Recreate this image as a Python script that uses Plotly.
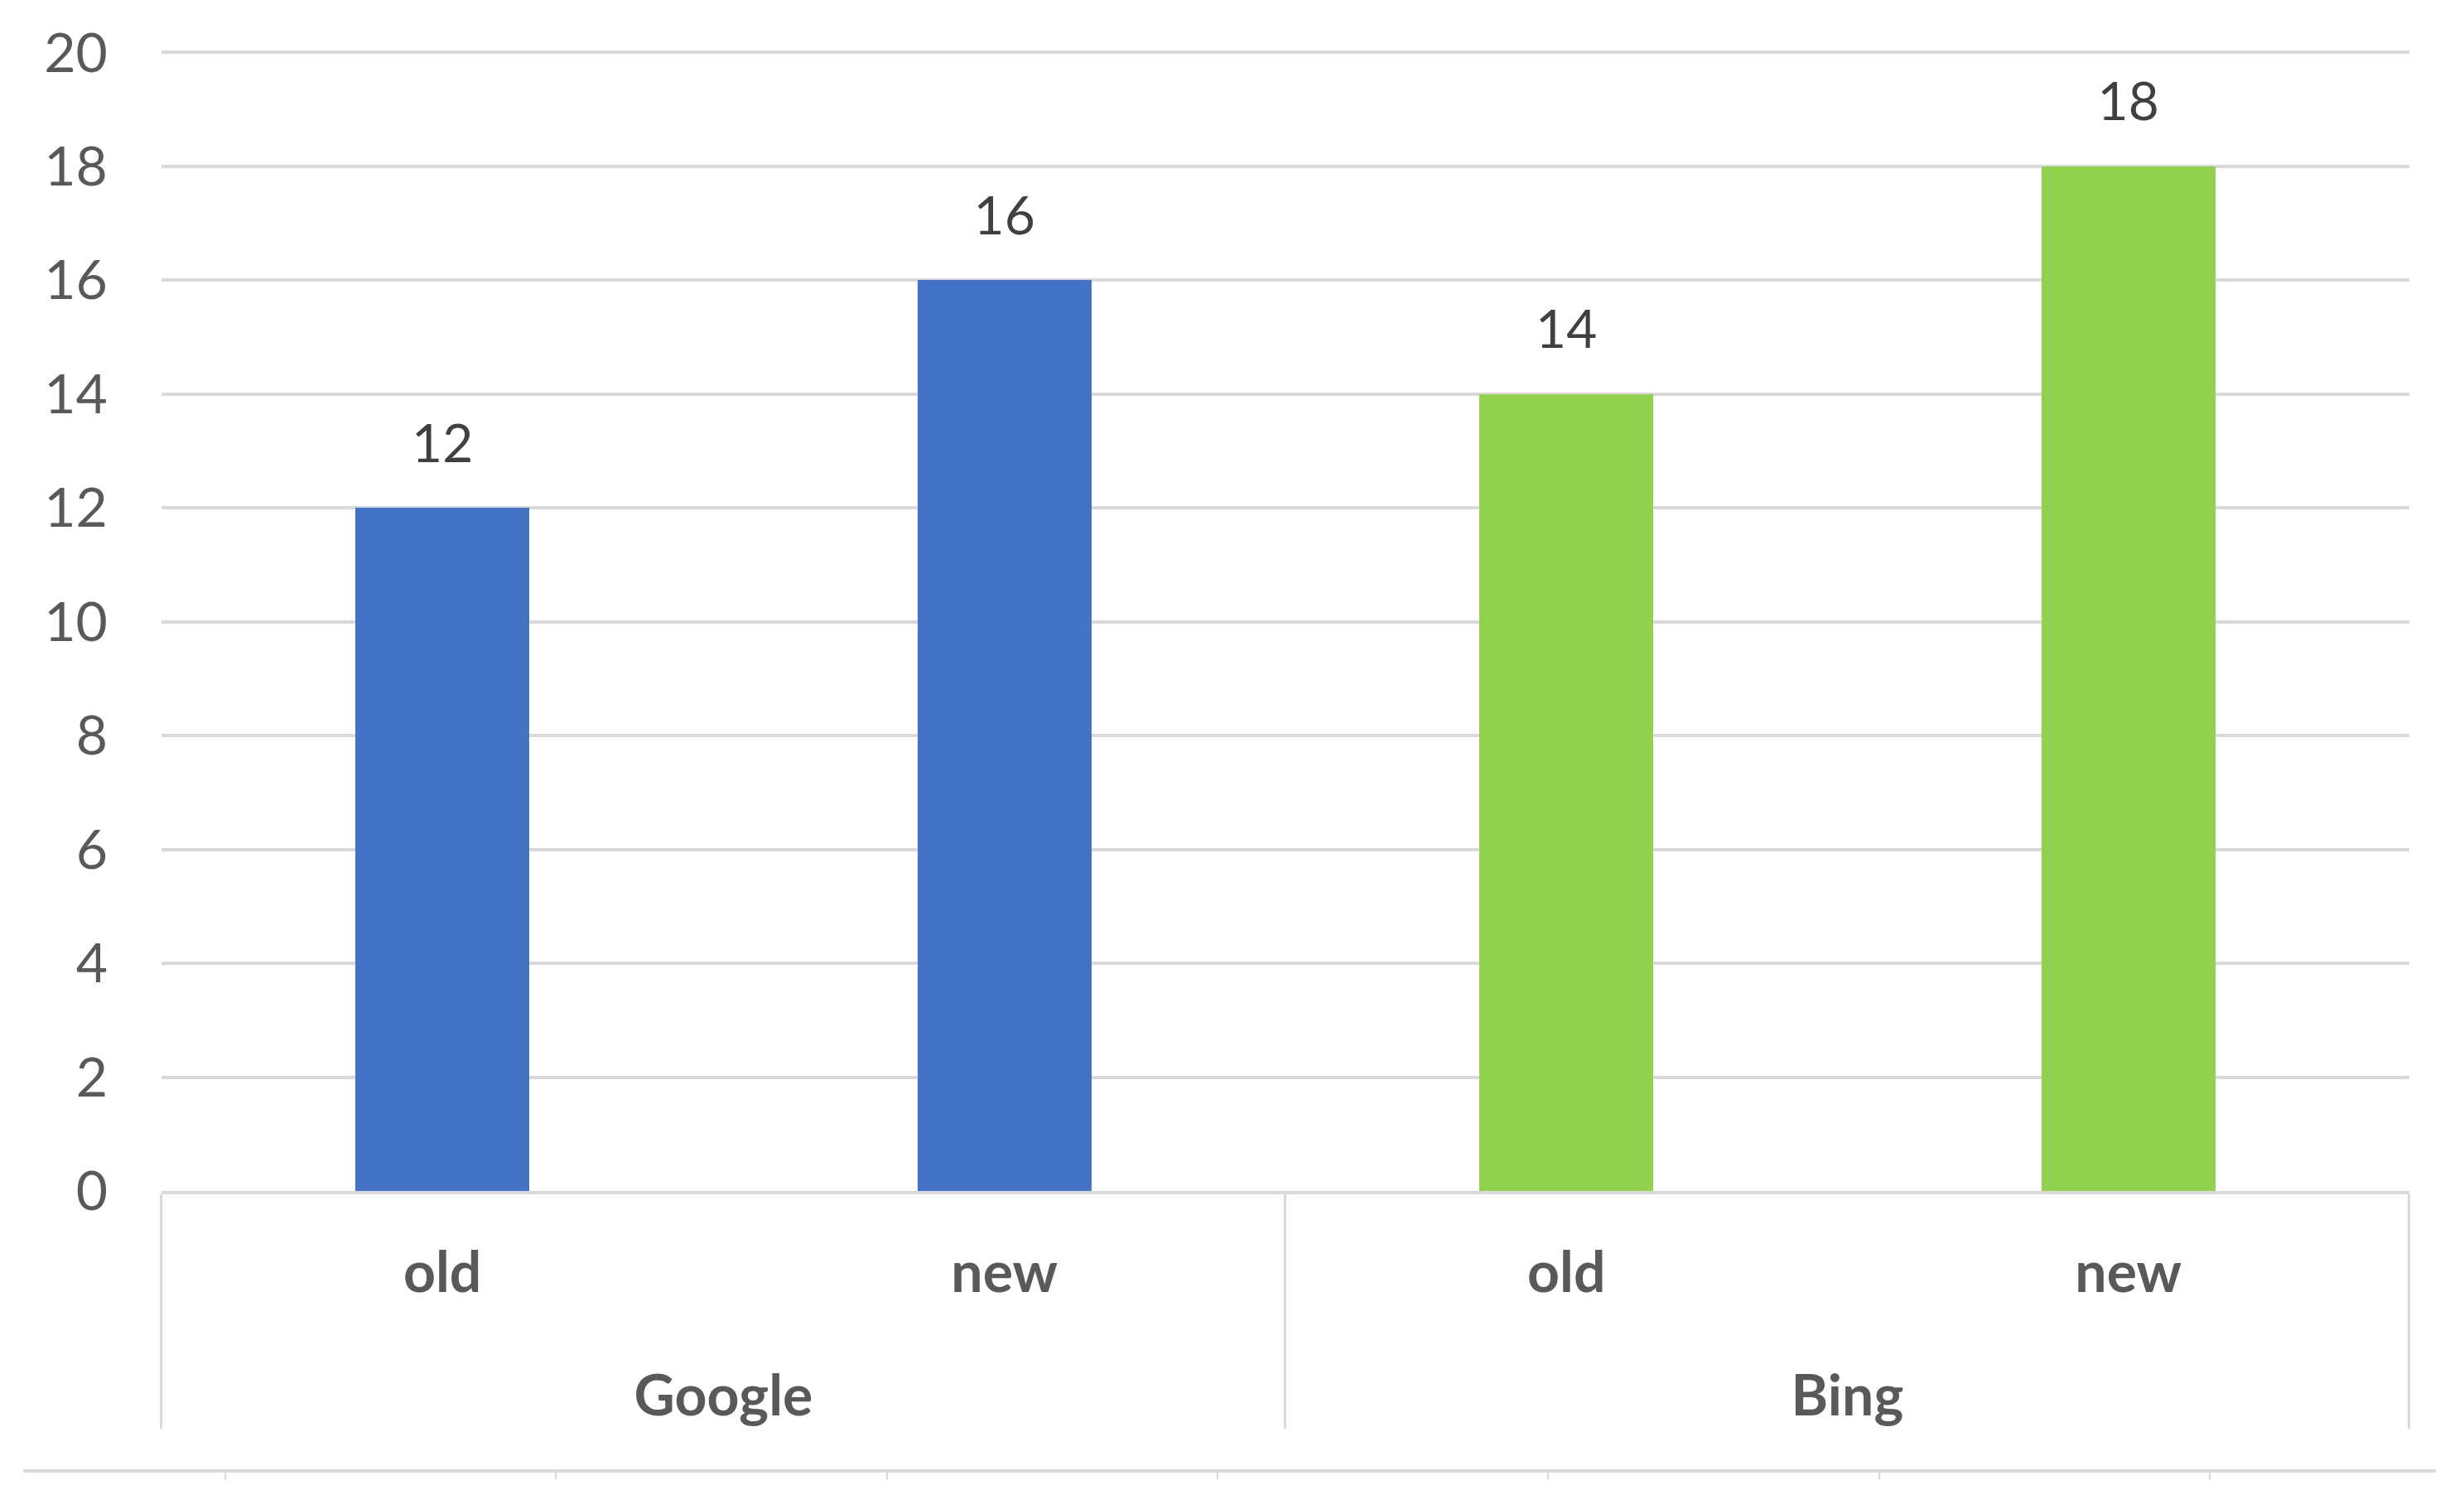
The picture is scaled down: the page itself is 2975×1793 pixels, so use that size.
import plotly.graph_objects as go

# ---- data ----
groups = ["Google", "Google", "Bing", "Bing"]
versions = ["old", "new", "old", "new"]
values = [12, 16, 14, 18]
bar_colors = ["#4472C4", "#4472C4", "#92D050", "#92D050"]
y_ticks = list(range(0, 21, 2))

FONT = "Lato"
GRID = "#d9d9d9"
TXT = "#595959"

# inner labels get a blank second line so the group row sits lower
version_labels = [v + "<br><span style='font-size:130px'> </span>" for v in versions]
xcats = [groups, version_labels]

fig = go.Figure()
fig.add_trace(go.Bar(
    x=xcats, y=values,
    marker=dict(color=bar_colors, line=dict(width=0)),
    width=0.31, showlegend=False, hoverinfo="skip",
))
fig.add_trace(go.Scatter(
    x=xcats, y=values,
    mode="markers+text", text=[str(v) for v in values],
    textposition="top center",
    marker=dict(size=62, color="rgba(0,0,0,0)"),
    textfont=dict(family=FONT, size=64, color="#404040"),
    cliponaxis=False, showlegend=False, hoverinfo="skip",
))
# empty trace that carries the bottom (cut-off) axis
fig.add_trace(go.Scatter(x=[], y=[], xaxis="x2", yaxis="y2", showlegend=False))

fig.update_layout(
    width=2975, height=1793,
    margin=dict(l=20, r=42, t=52, b=27, autoexpand=False),
    paper_bgcolor="white", plot_bgcolor="white",
    bargap=0, barmode="overlay",
    xaxis=dict(
        type="multicategory", domain=[0.0573, 0.989], anchor="y",
        range=[-0.5, 3.5], automargin=False,
        showline=True, linecolor=GRID, linewidth=4,
        showdividers=True, dividercolor=GRID, dividerwidth=3,
        ticks="", showgrid=False, ticklabelstandoff=36,
        tickfont=dict(family=FONT, size=68, color=TXT, weight="bold"),
    ),
    yaxis=dict(
        domain=[0.19603, 1], anchor="x", automargin=False,
        range=[0, 20.05], tickvals=y_ticks,
        showgrid=True, gridcolor=GRID, gridwidth=4,
        zeroline=False, showline=False, ticks="",
        ticklabelstandoff=64,
        tickfont=dict(family=FONT, size=66, color=TXT),
    ),
    xaxis2=dict(
        domain=[0, 1], anchor="y2", range=[-0.611, 6.684], automargin=False,
        showline=True, linecolor=GRID, linewidth=4,
        ticks="outside", ticklen=9, tickwidth=2, tickcolor=GRID,
        tick0=0, dtick=1, showticklabels=False,
        showgrid=False, zeroline=False,
    ),
    yaxis2=dict(domain=[0, 0.05], anchor="x2", visible=False, range=[0, 1],
                automargin=False),
)

fig.write_html("out.html")
